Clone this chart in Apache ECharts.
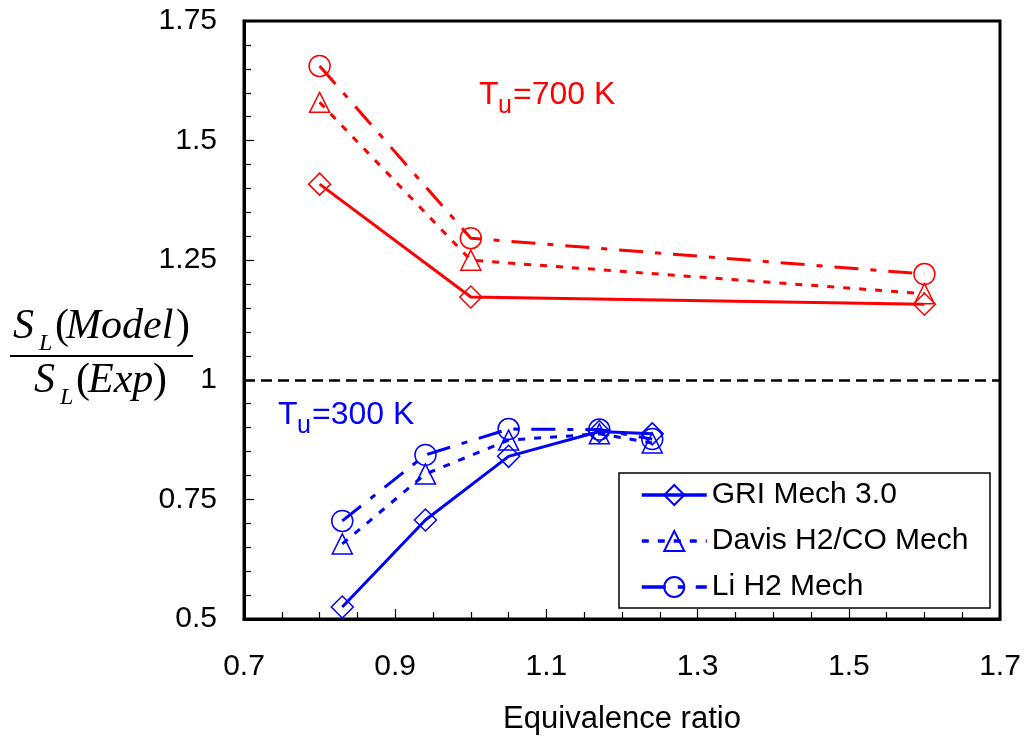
<!DOCTYPE html>
<html>
<head>
<meta charset="utf-8">
<script src="https://cdn.jsdelivr.net/npm/echarts@6/dist/echarts.min.js"></script>
<style>
  html, body { margin: 0; padding: 0; background: #fff; }
  #chart { width: 1028px; height: 742px; }
</style>
</head>
<body>
<div id="chart"></div>
<script>
// Equivalence ratio values
const phi700 = [0.8, 1.0, 1.6];
const phi300 = [0.83, 0.94, 1.05, 1.17, 1.24];

// S_L(Model)/S_L(Exp) at Tu = 700 K
const gri700 = [1.409, 1.173, 1.158];
const davis700 = [1.580, 1.250, 1.180];
const li700 = [1.656, 1.296, 1.221];

// S_L(Model)/S_L(Exp) at Tu = 300 K
const gri300 = [0.525, 0.707, 0.840, 0.892, 0.887];
const davis300 = [0.657, 0.803, 0.874, 0.887, 0.868];
const li300 = [0.705, 0.843, 0.897, 0.896, 0.876];

// Axis ticks
const xTicks = { min: 0.7, max: 1.7, step: 0.2 };
const yTicks = { min: 0.5, max: 1.75, step: 0.25 };

const mechNames = ['GRI Mech 3.0', 'Davis H2/CO Mech', 'Li H2 Mech'];

const RED = '#ff0000';
const BLUE = '#0000ff';
const SANS = 'Liberation Sans, Arial, sans-serif';
const SERIF = 'Liberation Serif, Times New Roman, serif';

const pairs = (xs, ys) => xs.map((x, i) => [x, ys[i]]);

const styles = [
  { symbol: 'diamond', size: [22, 22], dash: 'solid' },
  { symbol: 'triangle', size: [20, 20], dash: [7, 9] },
  { symbol: 'circle', size: [21, 21], dash: [24, 12, 6, 12] }
];

function makeSeries(name, color, xs, ys, st) {
  return {
    name: name,
    type: 'line',
    data: pairs(xs, ys),
    symbol: st.symbol,
    symbolSize: st.size,
    showAllSymbol: true,
    lineStyle: { color: color, width: 3, type: st.dash },
    itemStyle: { color: 'rgba(255,255,255,0)', borderColor: color, borderWidth: 1.5 },
    emphasis: { disabled: true },
    animation: false,
    z: 3
  };
}

const series = [
  makeSeries('GRI 700', RED, phi700, gri700, styles[0]),
  makeSeries('Davis 700', RED, phi700, davis700, styles[1]),
  makeSeries('Li 700', RED, phi700, li700, styles[2]),
  makeSeries(mechNames[0], BLUE, phi300, gri300, styles[0]),
  makeSeries(mechNames[1], BLUE, phi300, davis300, styles[1]),
  makeSeries(mechNames[2], BLUE, phi300, li300, styles[2])
];

// Reference line at ratio = 1
series[0].markLine = {
  silent: true,
  symbol: 'none',
  label: { show: false },
  lineStyle: { color: '#000', width: 2.5, type: [11, 6] },
  data: [{ yAxis: 1 }],
  animation: false
};

const chart = echarts.init(document.getElementById('chart'), null, { renderer: 'canvas' });

function txt(x, y, s, size, color, family, style) {
  return {
    type: 'text', x: x, y: y, z: 10,
    style: {
      text: s, fill: color, font: (style || 'normal') + ' ' + size + 'px ' + family,
      textAlign: 'left', textVerticalAlign: 'middle', verticalAlign: 'middle'
    }
  };
}

chart.setOption({
  animation: false,
  backgroundColor: '#fff',
  grid: {
    left: 244, right: 28, top: 21, bottom: 123,
    show: true, borderColor: '#000', borderWidth: 3, backgroundColor: 'rgba(0,0,0,0)'
  },
  xAxis: {
    type: 'value',
    min: xTicks.min, max: xTicks.max, interval: xTicks.step,
    axisLine: { show: true, lineStyle: { color: '#000', width: 3 } },
    axisTick: { show: true, inside: true, length: 10, lineStyle: { color: '#000', width: 1.2 } },
    minorTick: { show: true, splitNumber: 4, length: 7, lineStyle: { color: '#000', width: 1.2 } },
    splitLine: { show: false },
    axisLabel: { color: '#000', fontSize: 30, fontFamily: SANS, margin: 33 },
    name: 'Equivalence ratio',
    nameLocation: 'middle',
    nameGap: 85,
    nameTextStyle: { color: '#000', fontSize: 31, fontFamily: SANS }
  },
  yAxis: {
    type: 'value',
    min: yTicks.min, max: yTicks.max, interval: yTicks.step,
    axisLine: { show: true, lineStyle: { color: '#000', width: 3 } },
    axisTick: { show: true, inside: true, length: 10, lineStyle: { color: '#000', width: 1.2 } },
    minorTick: { show: true, splitNumber: 5, length: 7, lineStyle: { color: '#000', width: 1.2 } },
    splitLine: { show: false },
    axisLabel: { color: '#000', fontSize: 30, fontFamily: SANS, margin: 27 }
  },
  legend: {
    data: mechNames,
    orient: 'vertical',
    left: 640, top: 480,
    padding: 0,
    itemWidth: 65, itemHeight: 25, itemGap: 16,
    selectedMode: false,
    lineStyle: { width: 3.5 },
    textStyle: { color: '#000', fontSize: 30, fontFamily: SANS, lineHeight: 30 }
  },
  graphic: [
    // legend frame
    { type: 'rect', x: 619, y: 473, z: 1, shape: { width: 371, height: 135 },
      style: { fill: '#fff', stroke: '#000', lineWidth: 1.5 } },
    // temperature annotations
    txt(479, 95, 'T', 32, RED, SANS),
    txt(498, 106, 'u', 25, RED, SANS),
    txt(513, 95, '=700 K', 32, RED, SANS),
    txt(278, 415, 'T', 32, BLUE, SANS),
    txt(297, 426, 'u', 25, BLUE, SANS),
    txt(312, 415, '=300 K', 32, BLUE, SANS),
    // y-axis title: S_L(Model) / S_L(Exp)
    txt(13, 327, 'S', 42, '#000', SERIF, 'italic'),
    txt(39, 344, 'L', 24, '#000', SERIF, 'italic'),
    txt(55, 327, '(', 42, '#000', SERIF),
    txt(66, 327, 'Model', 42, '#000', SERIF, 'italic'),
    txt(176, 327, ')', 42, '#000', SERIF),
    { type: 'line', z: 10, shape: { x1: 10, y1: 356, x2: 193, y2: 356 },
      style: { stroke: '#000', lineWidth: 2 } },
    txt(34, 381, 'S', 42, '#000', SERIF, 'italic'),
    txt(60, 398, 'L', 24, '#000', SERIF, 'italic'),
    txt(76, 381, '(', 42, '#000', SERIF),
    txt(88, 381, 'Exp', 42, '#000', SERIF, 'italic'),
    txt(153, 381, ')', 42, '#000', SERIF)
  ],
  series: series
});
</script>
</body>
</html>
